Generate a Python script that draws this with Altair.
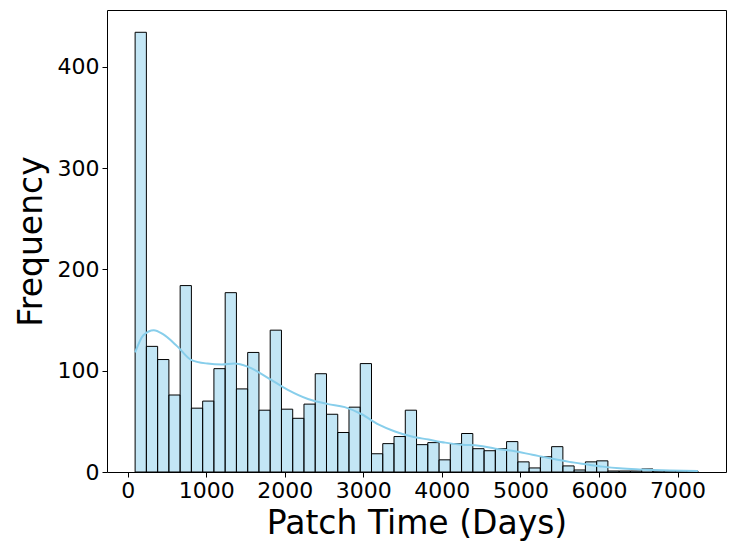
import altair as alt
import pandas as pd

# Histogram: 50 equal bins between the data min and max (days)
bin_start = 95
bin_width = 143.3
counts = [434, 124, 111, 76, 184, 63, 70, 102, 177, 82,
          118, 61, 140, 62, 53, 67, 97, 57, 39, 64,
          107, 18, 28, 35, 61, 27, 29, 12, 28, 38,
          23, 21, 23, 30, 10, 4, 15, 25, 6, 2,
          10, 11, 1, 1, 1, 3, 1, 1, 1, 1]

# KDE curve (scaled to counts)
kde_days = [95, 200, 333, 450, 632, 802, 1016, 1200, 1356, 1528,
            1784, 2039, 2295, 2551, 2764, 2979, 3191, 3403, 3617, 3831,
            4043, 4257, 4470, 4683, 4896, 5152, 5408, 5622, 5834, 6048,
            6262, 6474, 6688, 6901, 7259]
kde_vals = [118, 135, 140, 136, 124, 111, 107, 106, 107, 104,
            93, 81, 72, 67, 64, 57, 47, 40, 35, 32,
            29, 27, 26, 23, 21, 17, 13, 10, 7.6, 5.3,
            3.6, 2.6, 2, 1.6, 1]

x_ticks = [0, 1000, 2000, 3000, 4000, 5000, 6000, 7000]
y_ticks = [0, 100, 200, 300, 400]

hist = pd.DataFrame({
    "start": [bin_start + i * bin_width for i in range(len(counts))],
    "end": [bin_start + (i + 1) * bin_width for i in range(len(counts))],
    "count": counts,
    "zero": [0] * len(counts),
})
kde = pd.DataFrame({"day": kde_days, "val": kde_vals})

FONT = "DejaVu Sans"
xscale = alt.Scale(domain=[-263, 7617], nice=False, zero=False)
yscale = alt.Scale(domain=[0, 456], nice=False)

xaxis = alt.Axis(values=x_ticks, title="Patch Time (Days)", grid=False, domain=False,
                 tickSize=5, tickColor="black", tickWidth=1, labelFont=FONT,
                 labelFontSize=22, labelColor="black", labelPadding=3,
                 titleFont=FONT, titleFontSize=33, titleFontWeight="normal",
                 titleColor="black", titlePadding=6, format="d")
yaxis = alt.Axis(values=y_ticks, title="Frequency", grid=False, domain=False,
                 tickSize=5, tickColor="black", tickWidth=1, labelFont=FONT,
                 labelFontSize=22, labelColor="black", labelPadding=3,
                 titleFont=FONT, titleFontSize=33, titleFontWeight="normal",
                 titleColor="black", titlePadding=9, format="d")

bars = alt.Chart(hist).mark_rect(
    fill="skyblue", fillOpacity=0.5, stroke="black", strokeWidth=1
).encode(
    x=alt.X("start:Q", scale=xscale, axis=xaxis),
    x2="end:Q",
    y=alt.Y("count:Q", scale=yscale, axis=yaxis),
    y2="zero:Q",
)

line = alt.Chart(kde).mark_line(
    color="skyblue", strokeWidth=2, interpolate="monotone"
).encode(
    x=alt.X("day:Q", scale=xscale),
    y=alt.Y("val:Q", scale=yscale),
)

chart = alt.layer(bars, line).properties(
    width=619, height=462,
    autosize=alt.AutoSizeParams(type="none"),
    padding={"left": 99, "top": 2, "right": 2, "bottom": 74},
).configure(background="white").configure_view(stroke="black", strokeWidth=1)

chart.save("out.html", embed_options={"renderer": "svg", "actions": False})
